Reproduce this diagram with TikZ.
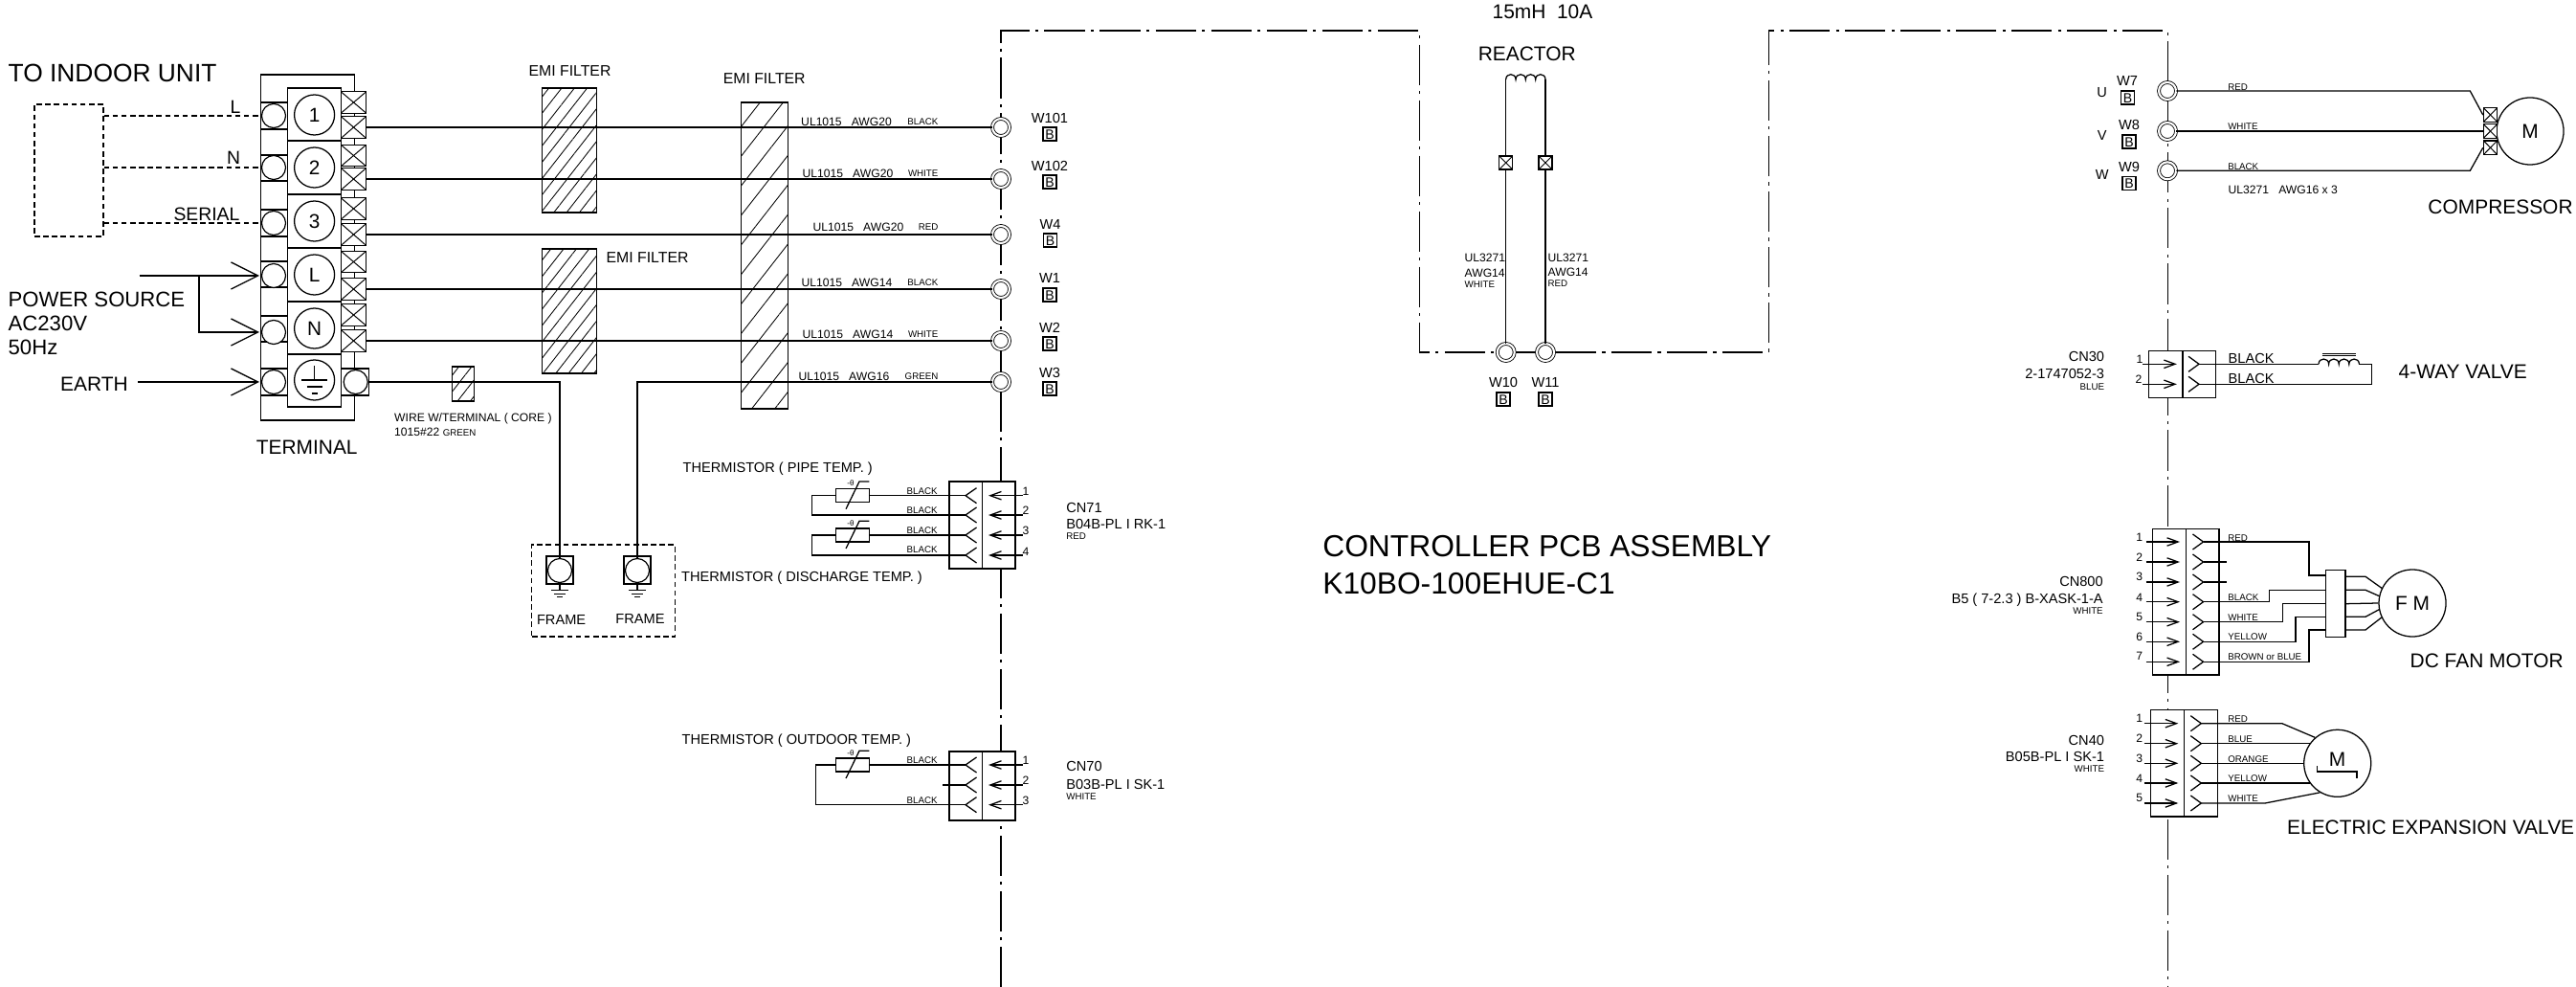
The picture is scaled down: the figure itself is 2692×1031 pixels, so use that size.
\documentclass[tikz,border=0pt]{standalone}
\usepackage{fontspec}
\setmainfont{Liberation Sans}
\usepackage{tikz}
\usetikzlibrary{arrows.meta, patterns.meta, calc}

\tikzset{
  wire/.style={line width=0.36pt},
  dashwire/.style={line width=0.3pt, dash pattern=on 1.6pt off 1pt},
  pcbline/.style={line width=0.3pt, dash pattern=on 12pt off 1.8pt on 0.9pt off 1.8pt},
  pxbox/.style 2 args={minimum width=#1*0.01cm, minimum height=#2*0.01cm},
  cell/.style={shape=rectangle, draw=black, fill=white, inner sep=0pt, line width=0.36pt},
  crimp/.style={cell, path picture={
      \draw[line width=0.28pt] (path picture bounding box.north west) -- (path picture bounding box.south east);
      \draw[line width=0.28pt] (path picture bounding box.south west) -- (path picture bounding box.north east);}},
  pin/.style={shape=circle, draw=black, fill=white, inner sep=0pt, line width=0.34pt, minimum size=0.25cm},
  screw/.style={shape=circle, draw=black, fill=white, inner sep=0pt, line width=0.36pt, minimum size=0.42cm, font=\fontsize{5.9pt}{6pt}\selectfont},
  ring/.style={shape=circle, draw=black, fill=white, inner sep=0pt, line width=0.24pt, double, double distance=0.6pt, minimum size=0.18cm},
  motor/.style={shape=circle, draw=black, fill=white, inner sep=0pt, line width=0.36pt, minimum size=0.7cm, font=\fontsize{5.95pt}{6pt}\selectfont},
  filter/.style={shape=rectangle, draw=black, inner sep=0pt, line width=0.36pt, pattern={Lines[angle=52,distance=0.105cm,line width=0.24pt]}},
  widefilter/.style={shape=rectangle, draw=black, inner sep=0pt, line width=0.36pt, pattern={Lines[angle=52,distance=0.19cm,line width=0.24pt]}},
  tagbox/.style={cell, pxbox={14}{14}, font=\fontsize{4pt}{4pt}\selectfont, text height=2.9pt},
  txtbig/.style={inner sep=0pt, font=\fontsize{9.03pt}{10pt}\selectfont, text height=6.5pt, text depth=0pt},
  txthead/.style={inner sep=0pt, font=\fontsize{7.5pt}{8pt}\selectfont, text height=5.4pt, text depth=0pt},
  txtpow/.style={inner sep=0pt, font=\fontsize{6.3pt}{7pt}\selectfont, text height=4.5pt, text depth=0pt},
  txtmain/.style={inner sep=0pt, font=\fontsize{5.95pt}{6pt}\selectfont, text height=4.3pt, text depth=0pt},
  txtser/.style={inner sep=0pt, font=\fontsize{5.5pt}{6pt}\selectfont, text height=4pt, text depth=0pt},
  txtemi/.style={inner sep=0pt, font=\fontsize{4.5pt}{5pt}\selectfont, text height=3.2pt, text depth=0pt},
  txtmid/.style={inner sep=0pt, font=\fontsize{4.15pt}{5pt}\selectfont, text height=3pt, text depth=0pt},
  txtsmall/.style={inner sep=0pt, font=\fontsize{3.45pt}{4pt}\selectfont, text height=2.5pt, text depth=0pt},
  txttag/.style={inner sep=0pt, font=\fontsize{2.77pt}{3pt}\selectfont, text height=2pt, text depth=0pt},
  sockleft/.pic={\draw[wire] (11.5,-8) -- (0,0) -- (11.5,8);},
  sockright/.pic={\draw[wire] (-11,-8) -- (0,0) -- (-11,8);},
  plugtip/.style={wire, -{Straight Barb[length=3.3pt,width=2.4pt]}},
  powertip/.style={wire, -{Straight Barb[length=8pt,width=8pt]}},
  earthmark/.pic={\draw[wire] (0,0) -- (0,6) (-9,6) -- (9,6) (-6,9.5) -- (6,9.5) (-3,13) -- (3,13);},
}

\begin{document}
\begin{tikzpicture}[x=0.01cm,y=-0.01cm,wire]
\useasboundingbox (0,0) rectangle (2692,1031);

% pcb outline
\coordinate (PA) at (1046,1031);
\coordinate (PB) at (1046,32);
\coordinate (PC) at (1483,32);
\coordinate (PD) at (1483,368);
\coordinate (PE) at (1848,368);
\coordinate (PF) at (1848,32);
\coordinate (PG) at (2265,32);
\coordinate (PH) at (2265,1031);
\draw[pcbline] (PA) -- (PB) -- (PC) -- (PD) -- (PE) -- (PF) -- (PG) -- (PH);

% terminal
\node[cell, pxbox={98}{361}] (TF) at (321.5,258.5) {};
\node[cell, pxbox={28}{28}] (PL1) at (286.5,121) {};
\node[cell, pxbox={28}{27}] (PL2) at (286.5,175.5) {};
\node[cell, pxbox={28}{28}] (PL3) at (286.5,233) {};
\node[cell, pxbox={28}{27}] (PL4) at (286.5,286.5) {};
\node[cell, pxbox={28}{27}] (PL5) at (286.5,343.5) {};
\node[cell, pxbox={28}{28}] (PL6) at (286.5,399) {};
\node[pin] (C1) at (286,121) {};
\node[pin] (C2) at (286,175) {};
\node[pin] (C3) at (286,233) {};
\node[pin] (C4) at (286,288) {};
\node[pin] (C5) at (286,347) {};
\node[pin] (C6) at (286,399) {};
\node[cell, pxbox={56}{55}] (B1) at (328.4,119.5) {};
\node[cell, pxbox={56}{56}] (B2) at (328.4,175) {};
\node[cell, pxbox={56}{56}] (B3) at (328.4,231) {};
\node[cell, pxbox={56}{56}] (B4) at (328.4,287) {};
\node[cell, pxbox={56}{55}] (B5) at (328.4,342.5) {};
\node[cell, pxbox={56}{55}] (B6) at (328.4,397.5) {};
\node[screw] (T1) at (328.6,120) {1};
\node[screw] (T2) at (328.6,175) {2};
\node[screw] (T3) at (328.6,231) {3};
\node[screw] (T4) at (328.6,287) {L};
\node[screw] (T5) at (328.6,343) {N};
\node[screw] (T6) at (328.6,397) {};
\draw (T6.north) ++(0,7) -- (T6.center);
\draw (315,397) -- (342,397) (320.6,404) -- (336.6,404) (325.6,411) -- (331.6,411);

\node[crimp, pxbox={26.5}{22.5}] (X1a) at (369.5,107) {};
\node[crimp, pxbox={26.5}{23}] (X1b) at (369.5,133) {};
\node[crimp, pxbox={26.5}{22.5}] (X2a) at (369.5,162.5) {};
\node[crimp, pxbox={26.5}{23}] (X2b) at (369.5,187) {};
\node[crimp, pxbox={26.5}{22.5}] (X3a) at (369.5,218) {};
\node[crimp, pxbox={26.5}{23}] (X3b) at (369.5,245) {};
\node[crimp, pxbox={26.5}{22.5}] (X4a) at (369.5,273.5) {};
\node[crimp, pxbox={26.5}{23}] (X4b) at (369.5,302) {};
\node[crimp, pxbox={26.5}{22.5}] (X5a) at (369.5,329) {};
\node[crimp, pxbox={26.5}{23}] (X5b) at (369.5,356) {};
\node[cell, pxbox={29}{28}] (PR6) at (371,399) {};
\node[pin] (C7) at (371.7,399) {};

% indoor unit and mains
\node[shape=rectangle, draw=black, dashwire, pxbox={72}{138}, inner sep=0pt] (IU) at (72,178) {};
\draw[dashwire] (IU.east |- C1) -- (C1);
\draw[dashwire] (IU.east |- C2) -- (C2);
\draw[dashwire] (IU.east |- C3) -- (C3);
\coordinate (PS) at (145.5,288);
\coordinate (PSa) at (271,288);
\coordinate (PSj) at (208,288);
\coordinate (PSb) at (271,347);
\coordinate (ES) at (144,399);
\coordinate (ESa) at (271,399);
\draw[powertip] (PS) -- (PSa);
\draw[powertip] (PSj) |- (PSb);
\draw[powertip] (ES) -- (ESa);

% emi filters
\node[filter, pxbox={57.4}{130}] (F1) at (595.1,157) {};
\node[filter, pxbox={57.4}{130}] (F2) at (595.1,325) {};
\node[widefilter, pxbox={49}{320}] (F3) at (799.1,267) {};
\node[filter, pxbox={23}{36}] (F4) at (484,401) {};

% terminals W
\node[ring] (W101) at (1046,133) {};
\node[ring] (W102) at (1046,187) {};
\node[ring] (W4) at (1046,245) {};
\node[ring] (W1) at (1046,302) {};
\node[ring] (W2) at (1046,356) {};
\node[ring] (W3) at (1046,399) {};
\draw (X1b) -- (W101);
\draw (X2b) -- (W102);
\draw (X3b) -- (W4);
\draw (X4b) -- (W1);
\draw (X5b) -- (W2);

% frame
\node[shape=rectangle, draw=black, dashwire, pxbox={149.5}{96}, inner sep=0pt] (FB) at (630.7,617) {};
\node[cell, pxbox={28}{29}] (FR1) at (585,595.5) {};
\node[cell, pxbox={28}{29}] (FR2) at (666,595.5) {};
\node[pin] (FC1) at (585,596) {};
\node[pin] (FC2) at (666,596) {};
\pic at (FR1.south) {earthmark};
\pic at (FR2.south) {earthmark};
\draw (C7) -| (FC1);
\draw (W3) -| (FC2);

% thermistors
\node[cell, pxbox={34.4}{91}] (CN71a) at (1009.2,548.5) {};
\node[cell, pxbox={34.6}{91}] (CN71b) at (1043.7,548.5) {};
\foreach \n/\y/\ny in {1/517.7/512.7, 2/538/532.7, 3/559/554, 4/580/576}{
  \coordinate (S71\n) at (1009,\y);
  \coordinate (P71\n) at (1033,\y);
  \coordinate (E71\n) at (1068.7,\y);
  \pic at (S71\n) {sockleft};
  \draw[plugtip] (E71\n) -- (P71\n);
  \node[txtsmall] (N71\n) at (1072,\ny) {\n};
}
\node[cell, pxbox={34.4}{72}] (CN70a) at (1009.2,821) {};
\node[cell, pxbox={34.6}{72}] (CN70b) at (1043.7,821) {};
\foreach \n/\y/\ny in {1/799/793.7, 2/820/814.7, 3/840.7/835.7}{
  \coordinate (S70\n) at (1009,\y);
  \coordinate (P70\n) at (1033,\y);
  \coordinate (E70\n) at (1068.7,\y);
  \pic at (S70\n) {sockleft};
  \draw[plugtip] (E70\n) -- (P70\n);
  \node[txtsmall] (N70\n) at (1072,\ny) {\n};
}
\node[cell, pxbox={35}{14}] (TH1) at (891,517.7) {};
\node[cell, pxbox={35}{14}] (TH2) at (891,559) {};
\node[cell, pxbox={35}{14}] (TH3) at (891,799) {};
\draw (TH1) ++(-7,14) -- ++(14,-28.7) -- ++(10.4,0);
\draw (TH2) ++(-7,14) -- ++(14,-28.7) -- ++(10.4,0);
\draw (TH3) ++(-7,14) -- ++(14,-28.7) -- ++(10.4,0);
\node[inner sep=0pt, font=\fontsize{2.3pt}{3pt}\selectfont] (TT1) at (889,505) {-θ};
\node[inner sep=0pt, font=\fontsize{2.3pt}{3pt}\selectfont] (TT2) at (889,546.3) {-θ};
\node[inner sep=0pt, font=\fontsize{2.3pt}{3pt}\selectfont] (TT3) at (889,786.3) {-θ};
\draw (TH1) -- (S711);
\draw (TH1.west) -- ++(-24.5,0) |- (S712);
\draw (TH2) -- (S713);
\draw (TH2.west) -- ++(-24.5,0) |- (S714);
\draw (TH3) -- (S701);
\draw (TH3.west) -- ++(-20.5,0) |- (S703);
\draw (S702) -- ++(-24.4,0);

% reactor
\node[ring] (W10) at (1573.7,368) {};
\node[ring] (W11) at (1615,368) {};
\node[crimp, pxbox={14}{14}] (X10) at (1573.7,170) {};
\node[crimp, pxbox={14}{14}] (X11) at (1615,170) {};
\coordinate (RL) at (1573.7,83);
\coordinate (RR) at (1615,83);
\draw (W10) -- (X10) -- (RL);
\draw (W11) -- (X11) -- (RR);
\draw (RL) .. controls +(0,-7) and +(0,-7) .. ++(10.3,0) .. controls +(0,-7) and +(0,-7) .. ++(10.3,0) .. controls +(0,-7) and +(0,-7) .. ++(10.4,0) .. controls +(0,-7) and +(0,-7) .. (RR);

% compressor
\node[ring] (W7) at (2265,95) {};
\node[ring] (W8) at (2265,137) {};
\node[ring] (W9) at (2265,178.3) {};
\node[motor] (MC) at (2644,137) {M};
\node[crimp, pxbox={14.3}{14.6}] (X7) at (2602.5,120) {};
\node[crimp, pxbox={14.3}{14.6}] (X8) at (2602.5,137) {};
\node[crimp, pxbox={14.3}{14.6}] (X9) at (2602.5,154.3) {};
\draw (W7) -- ++(316.3,0) -- (X7.west);
\draw (W8) -- (X8);
\draw (W9) -- ++(316.3,0) -- (X9.west);

% 4-way valve
\node[cell, pxbox={35.3}{49}] (CN30a) at (2263.4,390.8) {};
\node[cell, pxbox={34.6}{49}] (CN30b) at (2298.3,390.8) {};
\foreach \n/\y in {1/380.3, 2/401.3}{
  \coordinate (S30\n) at (2298,\y);
  \coordinate (P30\n) at (2274.8,\y);
  \coordinate (E30\n) at (2239,\y);
  \pic at (S30\n) {sockright};
  \draw[plugtip] (E30\n) -- (P30\n);
}
\coordinate (VL) at (2423,380.3);
\coordinate (VR) at (2465.4,380.3);
\coordinate (VC) at (2478.6,380.3);
\draw (S301) -- (VL);
\draw (VL) .. controls +(0,-7) and +(0,-7) .. ++(10.6,0) .. controls +(0,-7) and +(0,-7) .. ++(10.6,0) .. controls +(0,-7) and +(0,-7) .. ++(10.6,0) .. controls +(0,-7) and +(0,-7) .. (VR);
\draw (VR) -- (VC) |- (S302);
\draw (2426.5,369.3) -- (2461.6,369.3) (2426.5,371.3) -- (2461.6,371.3);

% fan motor
\node[cell, pxbox={35.2}{152.7}] (CN800a) at (2266.9,628.7) {};
\node[cell, pxbox={34.5}{152.7}] (CN800b) at (2301.8,628.7) {};
\foreach \n/\y/\ny in {1/566/561, 2/587/582, 3/608/602, 4/628.7/624, 5/649.7/644, 6/670.3/665, 7/691.3/685.6}{
  \coordinate (S800\n) at (2302.5,\y);
  \coordinate (P800\n) at (2278,\y);
  \coordinate (E800\n) at (2242.5,\y);
  \pic at (S800\n) {sockright};
  \draw[plugtip] (E800\n) -- (P800\n);
  \node[txtsmall] (N800\n) at (2235.6,\ny) {\n};
}
\node[cell, pxbox={20.4}{69.6}] (FJ) at (2440.8,630.5) {};
\node[motor] (FM) at (2521,630) {F M};
\coordinate (FL1) at (2430.6,601);
\coordinate (FL2) at (2430.6,616.3);
\coordinate (FL3) at (2430.6,630.7);
\coordinate (FL4) at (2430.6,644.3);
\coordinate (FL5) at (2430.6,658);
\coordinate (FR1j) at (2451,602.3);
\coordinate (FR2j) at (2451,616.3);
\coordinate (FR3j) at (2451,630.7);
\coordinate (FR4j) at (2451,644.3);
\coordinate (FR5j) at (2451,658);
\draw (S8001) -- ++(110.5,0) |- (FL1);
\draw (S8002) -- ++(24,0);
\draw (S8003) -- ++(24,0);
\draw (S8004) -- ++(69,0) |- (FL2);
\draw (S8005) -- ++(83.1,0) |- (FL3);
\draw (S8006) -- ++(96.5,0) |- (FL4);
\draw (S8007) -- ++(110.5,0) |- (FL5);
\draw (FR1j) -- ++(21,0) -- (FM.154);
\draw (FR2j) -- ++(21,0) -- (FM.168);
\draw (FR3j) -- (FM.180);
\draw (FR4j) -- ++(21,0) -- (FM.191);
\draw (FR5j) -- ++(21,0) -- (FM.205);

% expansion valve
\node[cell, pxbox={34.7}{111.3}] (CN40a) at (2265,797.3) {};
\node[cell, pxbox={35.2}{111.3}] (CN40b) at (2299.9,797.3) {};
\foreach \n/\y/\ny in {1/755.7/750, 2/776.7/771, 3/797.3/792, 4/818/813.3, 5/839/833}{
  \coordinate (S40\n) at (2300.3,\y);
  \coordinate (P40\n) at (2276.3,\y);
  \coordinate (E40\n) at (2240.7,\y);
  \pic at (S40\n) {sockright};
  \draw[plugtip] (E40\n) -- (P40\n);
  \node[txtsmall] (N40\n) at (2235.6,\ny) {\n};
}
\node[motor] (EV) at (2442.7,797.3) {};
\draw (S401) -- ++(84.5,0) -- (EV.131);
\draw (S402) -- (EV.145 |- S402);
\draw (S403) -- (EV.180);
\draw (S404) -- (EV.216 |- S404);
\draw (S405) -- ++(66.7,0) -- (EV.239);
\node[txtmain] (EVm) at (2442.6,793.3) {M};
\draw (2421.6,800) -- (2421.6,806) -- (2463,806) -- (2463,812.7);

% texts left
\node[txthead, anchor=west] (lTO) at (8,76) {TO INDOOR UNIT};
\node[txtser] (lL) at (246,111) {L};
\node[txtser] (lN) at (244,164) {N};
\node[txtser, anchor=east] (lSE) at (251,223) {SERIAL};
\node[txtpow, anchor=west] (lPS) at (8,313) {POWER SOURCE};
\node[txtpow, anchor=west] (lAC) at (8,338) {AC230V};
\node[txtpow, anchor=west] (lHz) at (8,363) {50Hz};
\node[txtmain, anchor=west] (lEA) at (62.5,401) {EARTH};
\node[txtmain] (lTE) at (320.7,467) {TERMINAL};
\node[txtsmall, anchor=west] (lWI) at (411.6,436) {WIRE W/TERMINAL ( CORE )};
\node[txtsmall, anchor=west] (lWJ) at (411.6,451) {1015\#22 {\fontsize{2.77pt}{3pt}\selectfont GREEN}};
\node[txtemi] (lF1) at (595.5,74) {EMI FILTER};
\node[txtemi] (lF2) at (798.7,82) {EMI FILTER};
\node[txtemi, anchor=west] (lF3) at (633,269) {EMI FILTER};

\node[txtsmall, anchor=west] (U1) at (836.6,127) {UL1015\ \ \ AWG20};
\node[txtsmall, anchor=west] (U2) at (838,181) {UL1015\ \ \ AWG20};
\node[txtsmall, anchor=west] (U3) at (849,237) {UL1015\ \ \ AWG20};
\node[txtsmall, anchor=west] (U4) at (837,295) {UL1015\ \ \ AWG14};
\node[txtsmall, anchor=west] (U5) at (838,349) {UL1015\ \ \ AWG14};
\node[txtsmall, anchor=west] (U6) at (834,393) {UL1015\ \ \ AWG16};
\node[txttag, anchor=east] (K1) at (981,127) {BLACK};
\node[txttag, anchor=east] (K2) at (981,181) {WHITE};
\node[txttag, anchor=east] (K3) at (981,237) {RED};
\node[txttag, anchor=east] (K4) at (981,295) {BLACK};
\node[txttag, anchor=east] (K5) at (981,349) {WHITE};
\node[txttag, anchor=east] (K6) at (981,393) {GREEN};

\node[txtmid] (n101) at (1097,123) {W101};
\node[txtmid] (n102) at (1097,173) {W102};
\node[txtmid] (n4) at (1097.6,234) {W4};
\node[txtmid] (n1) at (1097,290) {W1};
\node[txtmid] (n2) at (1097,342) {W2};
\node[txtmid] (n3) at (1097,389) {W3};
\node[tagbox] (t101) at (1097,140) {B};
\node[tagbox] (t102) at (1097,190) {B};
\node[tagbox] (t4) at (1097.6,251) {B};
\node[tagbox] (t1) at (1097,308) {B};
\node[tagbox] (t2) at (1097,359) {B};
\node[tagbox] (t3) at (1097,406) {B};

\node[txtmid] (lFA) at (586.6,647) {FRAME};
\node[txtmid] (lFB) at (669,646) {FRAME};
\node[txtmid, anchor=west] (lPI) at (713,488) {THERMISTOR ( PIPE TEMP. )};
\node[txtmid, anchor=west] (lDI) at (711.5,602) {THERMISTOR ( DISCHARGE TEMP. )};
\node[txtmid, anchor=west] (lOU) at (712,772) {THERMISTOR ( OUTDOOR TEMP. )};
\node[txttag] (b1) at (963.6,512.7) {BLACK};
\node[txttag] (b2) at (963.6,533) {BLACK};
\node[txttag] (b3) at (963.6,553.7) {BLACK};
\node[txttag] (b4) at (963.6,574) {BLACK};
\node[txttag] (b5) at (963.6,793.7) {BLACK};
\node[txttag] (b6) at (963.6,835.7) {BLACK};
\node[txtmid, anchor=west] (c71a) at (1113.7,530) {CN71};
\node[txtmid, anchor=west] (c71b) at (1113.7,547) {B04B-PL I RK-1};
\node[txttag, anchor=west] (c71c) at (1113.7,560) {RED};
\node[txtmid, anchor=west] (c70a) at (1113.7,800.7) {CN70};
\node[txtmid, anchor=west] (c70b) at (1113.7,819) {B03B-PL I SK-1};
\node[txttag, anchor=west] (c70c) at (1113.7,831.7) {WHITE};

% texts middle
\node[txtmain] (lVA) at (1612,12) {15mH\ \ 10A};
\node[txtmain] (lRE) at (1595.7,56) {REACTOR};
\node[txtsmall, anchor=west] (r1) at (1530,269) {UL3271};
\node[txtsmall, anchor=west] (r2) at (1530,285) {AWG14};
\node[txttag, anchor=west] (r3) at (1530,297) {WHITE};
\node[txtsmall, anchor=west] (r4) at (1617,269) {UL3271};
\node[txtsmall, anchor=west] (r5) at (1617,284) {AWG14};
\node[txttag, anchor=west] (r6) at (1617,296) {RED};
\node[txtmid] (n10) at (1571,399) {W10};
\node[txtmid] (n11) at (1615,399) {W11};
\node[tagbox] (t10) at (1571,417) {B};
\node[tagbox] (t11) at (1615,417) {B};
\node[txtbig, anchor=west] (lCO) at (1381.7,570) {CONTROLLER PCB ASSEMBLY};
\node[txtbig, anchor=west] (lKI) at (1381.7,609) {K10BO-100EHUE-C1};

% texts right
\node[txtmid] (lU) at (2196.6,96) {U};
\node[txtmid] (lV) at (2196.6,141.7) {V};
\node[txtmid] (lW) at (2196.6,182.7) {W};
\node[txtmid] (n7) at (2223,84.7) {W7};
\node[txtmid] (n8) at (2225,130.7) {W8};
\node[txtmid] (n9) at (2225,174) {W9};
\node[tagbox] (t7) at (2223.4,102) {B};
\node[tagbox] (t8) at (2225,148) {B};
\node[tagbox] (t9) at (2225,191.7) {B};
\node[txttag, anchor=west] (q1) at (2327.6,90.7) {RED};
\node[txttag, anchor=west] (q2) at (2327.6,131.7) {WHITE};
\node[txttag, anchor=west] (q3) at (2327.6,173.7) {BLACK};
\node[txtsmall, anchor=west] (q4) at (2328,197.7) {UL3271\ \ \ AWG16 x 3};
\node[txtmain, anchor=west] (lCP) at (2536.8,216) {COMPRESSOR};
\node[txtmid, anchor=east] (c30a) at (2199.7,372.7) {CN30};
\node[txtmid, anchor=east] (c30b) at (2199.7,390.7) {2-1747052-3};
\node[txttag, anchor=east] (c30c) at (2199.7,403.7) {BLUE};
\node[txtsmall] (N301) at (2236,374.7) {1};
\node[txtsmall] (N302) at (2235,395.7) {2};
\node[txtmid, anchor=west] (v1) at (2328,374) {BLACK};
\node[txtmid, anchor=west] (v2) at (2328,395) {BLACK};
\node[txtmain, anchor=west] (lWV) at (2506,388) {4-WAY VALVE};
\node[txtmid, anchor=east] (c800a) at (2198.3,607) {CN800};
\node[txtmid, anchor=east] (c800b) at (2198.3,625.3) {B5 ( 7-2.3 ) B-XASK-1-A};
\node[txttag, anchor=east] (c800c) at (2198.3,637.7) {WHITE};
\node[txttag, anchor=west] (f1) at (2327.7,561.7) {RED};
\node[txttag, anchor=west] (f2) at (2327.7,624) {BLACK};
\node[txttag, anchor=west] (f3) at (2327.7,644.7) {WHITE};
\node[txttag, anchor=west] (f4) at (2327.7,665.3) {YELLOW};
\node[txttag, anchor=west] (f5) at (2327.7,685.7) {BROWN or BLUE};
\node[txtmain, anchor=west] (lDC) at (2518,690) {DC FAN MOTOR};
\node[txtmid, anchor=east] (c40a) at (2199.6,773.3) {CN40};
\node[txtmid, anchor=east] (c40b) at (2199.6,790.3) {B05B-PL I SK-1};
\node[txttag, anchor=east] (c40c) at (2199.6,802.7) {WHITE};
\node[txttag, anchor=west] (e1) at (2327.7,750.7) {RED};
\node[txttag, anchor=west] (e2) at (2327.7,771.7) {BLUE};
\node[txttag, anchor=west] (e3) at (2327.7,792.7) {ORANGE};
\node[txttag, anchor=west] (e4) at (2327.7,812.7) {YELLOW};
\node[txttag, anchor=west] (e5) at (2327.7,833.7) {WHITE};
\node[txtmain, anchor=west] (lEE) at (2389.5,864.3) {ELECTRIC EXPANSION VALVE};

\end{tikzpicture}
\end{document}
